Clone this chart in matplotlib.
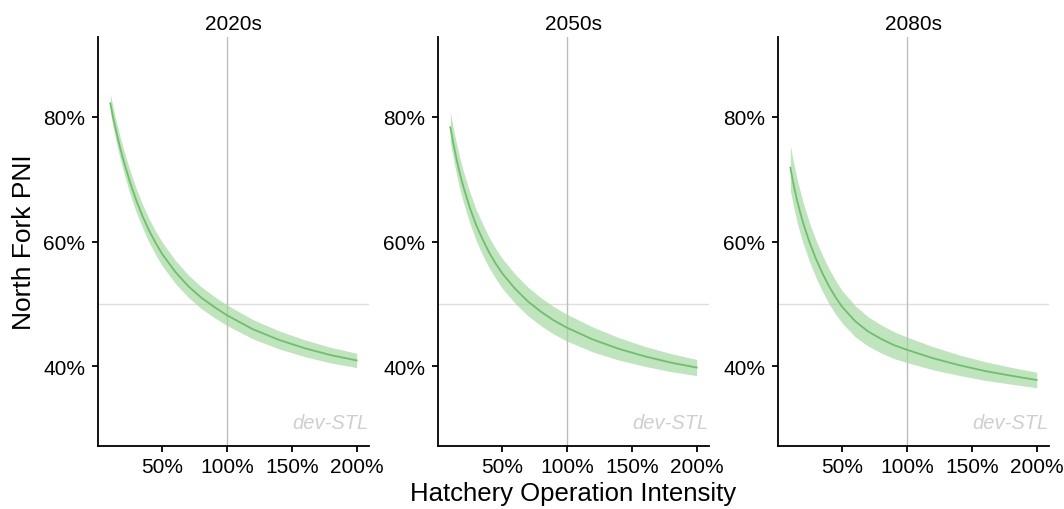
import matplotlib
matplotlib.use("Agg")
import matplotlib.pyplot as plt
import numpy as np
from matplotlib.ticker import FuncFormatter

plt.rcParams["font.family"] = ["Liberation Sans", "DejaVu Sans"]

# Hatchery operation intensity (fraction of current operation)
intensity = [0.1, 0.125, 0.15, 0.175, 0.2, 0.25, 0.3, 0.35, 0.4, 0.45, 0.5,
             0.6, 0.7, 0.8, 0.9, 1.0, 1.2, 1.4, 1.6, 1.8, 2.0]

periods = ["2020s", "2050s", "2080s"]

# Median North Fork PNI (%) for each period
pni_2020s = [82.2, 79.6, 77.3, 75.1, 73.15, 69.65, 66.6, 64.0, 61.7, 59.75, 58.0,
             55.15, 52.85, 51.0, 49.5, 48.15, 45.9, 44.2, 42.85, 41.75, 40.9]
pni_2050s = [78.35, 75.55, 73.05, 70.8, 68.85, 65.45, 62.6, 60.3, 58.2, 56.45, 54.9,
             52.4, 50.35, 48.7, 47.3, 46.15, 44.25, 42.75, 41.55, 40.55, 39.75]
pni_2080s = [71.85, 69.15, 66.8, 64.75, 62.9, 59.75, 57.1, 54.8, 52.75, 51.0, 49.5,
             47.2, 45.55, 44.35, 43.35, 42.6, 41.25, 40.15, 39.2, 38.45, 37.75]

# Half-width of the uncertainty ribbon (% points)
half_2020s = [1.5, 1.6, 1.7, 1.75, 1.8, 1.9, 1.9, 1.9, 1.9, 1.9, 1.9,
              1.85, 1.8, 1.75, 1.7, 1.65, 1.55, 1.45, 1.35, 1.25, 1.15]
half_2050s = [2.4, 2.45, 2.5, 2.5, 2.5, 2.5, 2.5, 2.5, 2.45, 2.4, 2.4,
              2.35, 2.3, 2.25, 2.2, 2.15, 2.0, 1.8, 1.6, 1.45, 1.3]
half_2080s = [3.6, 3.55, 3.5, 3.4, 3.3, 3.1, 3.0, 2.9, 2.8, 2.7, 2.6,
              2.5, 2.35, 2.25, 2.15, 2.05, 1.85, 1.65, 1.5, 1.35, 1.25]

x_ticks = [0.5, 1.0, 1.5, 2.0]
y_ticks = [0.4, 0.6, 0.8]
pni_target = 0.5
reference_intensity = 1.0
watermark = "dev-STL"

series = [(pni_2020s, half_2020s), (pni_2050s, half_2050s), (pni_2080s, half_2080s)]

W, H = 1064, 510
fig = plt.figure(figsize=(W / 100, H / 100), dpi=100)

lefts = [98, 438, 778]
ax_w, top, bottom = 271, 38, 447

pct = FuncFormatter(lambda v, _: f"{v * 100:.0f}%")
x = np.array(intensity)

for i, (period, (mid, half)) in enumerate(zip(periods, series)):
    ax = fig.add_axes([lefts[i] / W, 1 - bottom / H, ax_w / W, (bottom - top) / H])
    mid = np.array(mid) / 100
    half = np.array(half) / 100

    ax.axhline(pni_target, color="#dedede", lw=1.0, zorder=1)
    ax.axvline(reference_intensity, color="#bdbdbd", lw=1.0, zorder=1)
    ax.fill_between(x, mid - half, mid + half, color="#9fd69a", alpha=0.65,
                    lw=0, zorder=2)
    ax.plot(x, mid, color="#6fbf6c", lw=1.3, zorder=3)

    ax.set_xlim(0.005, 2.095)
    ax.set_ylim(0.2715, 0.9285)
    ax.set_xticks(x_ticks)
    ax.set_yticks(y_ticks)
    ax.xaxis.set_major_formatter(pct)
    ax.yaxis.set_major_formatter(pct)

    for s in ("top", "right"):
        ax.spines[s].set_visible(False)
    for s in ("left", "bottom"):
        ax.spines[s].set_linewidth(1.3)
        ax.spines[s].set_color("black")
    ax.tick_params(direction="out", length=4, width=1.3, labelsize=15,
                   colors="black")
    ax.tick_params(axis="y", pad=5)
    ax.tick_params(axis="x", pad=4)

    ax.set_title(period, fontsize=15, pad=6)
    ax.text(0.997, 0.035, watermark, transform=ax.transAxes, ha="right",
            va="bottom", fontsize=14.5, style="italic", color="#cfcfcf")

fig.text(24 / W, 1 - 242 / H, "North Fork PNI", rotation=90, fontsize=19,
         ha="center", va="center")
fig.text(573 / W, 1 - 494 / H, "Hatchery Operation Intensity", fontsize=18.5,
         ha="center", va="center")

fig.savefig("out.png", dpi=100)
